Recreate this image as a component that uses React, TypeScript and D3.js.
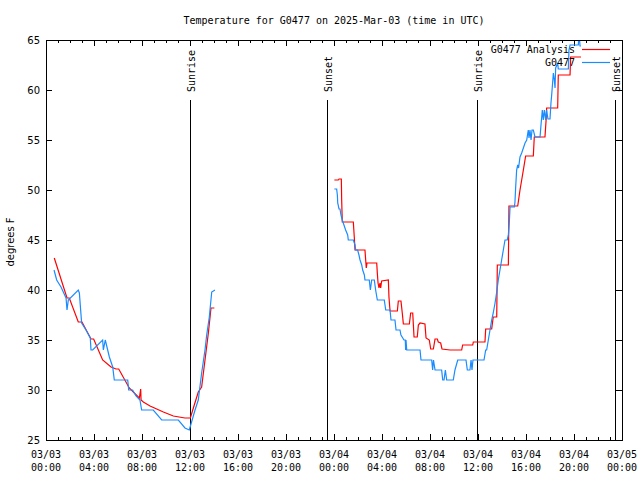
import React from "react";
import * as d3 from "d3";

// ---- data (hours since 2025-03-03 00:00 UTC, temperature in F) ----
const analysisSeg1: [number, number][] = [
  [0.69, 43.2], [1.75, 39.2], [1.94, 39.2], [2.69, 36.8], [3.0, 36.8], [3.75, 35.1], [3.97, 35.1],
  [4.72, 33.0], [5.42, 32.3], [5.83, 32.1], [6.06, 32.1], [6.94, 30.2], [7.44, 29.6], [7.78, 29.2],
  [7.89, 30.1], [7.92, 29.0], [8.11, 28.8], [8.67, 28.4], [9.78, 27.8], [10.61, 27.4], [11.58, 27.2],
  [12.03, 27.2], [12.28, 28.2], [12.69, 29.8], [12.97, 30.3], [13.25, 33.0], [13.53, 35.7],
  [13.75, 38.2], [14.03, 38.2],
];
const analysisSeg2: [number, number][] = [
  [24.03, 51.0], [24.36, 51.0], [24.42, 51.1], [24.61, 51.1], [24.64, 49.0], [24.69, 46.8],
  [25.61, 46.8], [25.69, 45.3], [25.75, 44.0], [26.58, 44.0], [26.64, 43.0], [26.69, 42.2],
  [26.75, 42.7], [27.56, 42.7], [27.61, 41.7], [27.67, 40.7], [27.75, 40.2], [27.83, 40.7],
  [27.89, 40.2], [27.97, 40.9], [28.53, 41.0], [28.58, 39.3], [28.67, 37.9], [29.28, 37.9],
  [29.36, 38.9], [29.58, 38.9], [29.69, 37.7], [29.78, 36.6], [30.28, 36.6], [30.39, 37.7],
  [30.56, 37.7], [30.67, 35.3], [30.94, 35.3], [31.03, 36.5], [31.17, 36.7], [31.58, 36.6],
  [31.67, 35.2], [31.94, 35.0], [32.06, 34.1], [32.28, 34.1], [32.42, 35.1], [32.61, 35.1],
  [32.69, 34.8], [32.89, 34.7], [33.0, 34.1], [33.67, 34.0], [34.64, 34.0], [34.72, 34.5],
  [35.56, 34.5], [35.61, 34.8], [36.58, 34.8], [36.64, 36.1], [37.14, 36.1], [37.27, 37.3],
  [37.56, 37.3], [37.61, 42.5], [38.53, 42.5], [38.58, 48.4], [39.31, 48.4], [39.5, 50.0],
  [39.78, 52.0], [39.97, 53.4], [40.61, 53.4], [40.69, 55.3], [41.58, 55.3], [41.67, 56.9],
  [41.72, 58.2], [42.64, 58.2], [42.69, 61.5], [43.67, 61.5], [43.72, 63.3], [44.58, 63.3],
];
const observedSeg1: [number, number][] = [
  [0.67, 42.0], [0.89, 41.0], [1.25, 40.3], [1.67, 39.2], [1.75, 38.0], [1.86, 39.0], [2.69, 40.0],
  [2.78, 39.7], [2.97, 36.7], [3.33, 36.0], [3.69, 35.2], [3.75, 34.0], [3.89, 34.0], [4.72, 35.0],
  [4.78, 34.0], [4.94, 35.0], [5.28, 33.3], [5.56, 32.3], [5.69, 31.0], [6.81, 31.0], [6.89, 30.0],
  [7.22, 30.0], [7.5, 29.4], [7.83, 29.0], [7.97, 28.0], [8.94, 28.0], [9.64, 27.0], [11.03, 27.0],
  [11.58, 26.2], [11.94, 26.0], [12.06, 26.5], [12.42, 28.0], [12.69, 29.0], [12.97, 31.7],
  [13.25, 34.0], [13.39, 35.5], [13.61, 37.3], [13.81, 39.8], [14.08, 40.0],
];
const observedSeg2: [number, number][] = [
  [24.03, 50.1], [24.22, 50.1], [24.28, 49.5], [24.31, 48.7], [24.42, 48.1], [24.5, 48.1],
  [24.58, 47.5], [24.69, 47.0], [24.83, 46.5], [24.97, 46.0], [25.14, 45.5], [25.19, 45.0],
  [25.61, 45.0], [25.75, 44.5], [25.81, 44.0], [25.97, 44.0], [26.08, 43.5], [26.17, 43.0],
  [26.31, 42.5], [26.39, 42.0], [26.53, 41.5], [26.58, 41.0], [26.94, 41.0], [27.03, 40.0],
  [27.14, 41.0], [27.36, 41.0], [27.47, 40.0], [27.61, 39.0], [28.19, 39.0], [28.31, 38.0],
  [28.67, 38.0], [28.75, 37.0], [29.08, 37.0], [29.17, 36.0], [29.5, 36.0], [29.58, 35.5],
  [29.83, 35.0], [29.94, 35.0], [29.97, 34.0], [30.0, 35.0], [30.06, 34.0], [31.17, 34.0],
  [31.25, 33.0], [32.14, 33.0], [32.22, 32.0], [32.29, 33.0], [32.42, 32.0], [32.97, 32.0],
  [33.06, 31.0], [33.17, 31.0], [33.28, 32.0], [33.39, 31.0], [33.94, 31.0], [34.08, 32.0],
  [34.31, 33.0], [35.0, 33.0], [35.11, 32.0], [35.33, 32.0], [35.42, 33.0], [35.5, 32.0],
  [35.58, 33.0], [36.5, 33.0], [36.64, 34.0], [36.72, 34.0], [36.86, 35.0], [37.0, 36.0],
  [37.14, 37.0], [37.27, 37.7], [37.42, 38.7], [37.56, 39.8], [37.69, 41.0], [37.83, 42.0],
  [37.97, 43.0], [38.11, 44.0], [38.25, 45.0], [38.44, 45.0], [38.53, 45.5], [38.61, 46.8],
  [38.67, 48.3], [39.03, 48.3], [39.08, 48.8], [39.14, 50.3], [39.22, 52.0], [39.31, 52.5],
  [39.38, 52.2], [39.5, 53.3], [39.64, 53.7], [39.78, 54.2], [39.92, 54.7], [40.06, 55.0],
  [40.19, 56.0], [40.25, 55.2], [40.33, 56.0], [40.42, 55.0], [40.5, 56.0], [40.61, 56.0],
  [40.75, 55.3], [41.17, 55.3], [41.25, 56.5], [41.36, 58.0], [41.44, 57.0], [41.53, 58.0],
  [41.64, 57.0], [41.72, 58.0], [41.83, 57.1], [42.0, 57.1], [42.08, 58.7], [42.14, 59.5],
  [42.28, 61.7], [42.36, 61.0], [42.42, 60.2], [42.47, 62.2], [42.64, 62.7], [42.69, 62.1],
  [43.53, 62.1], [43.58, 64.0], [43.67, 64.5], [44.36, 64.5], [44.42, 65.8], [44.5, 64.4],
  [44.58, 64.4],
];
const sunEvents: { label: string; h: number }[] = [
  { label: "Sunrise", h: 12.03 },
  { label: "Sunset", h: 23.45 },
  { label: "Sunrise", h: 35.95 },
  { label: "Sunset", h: 47.38 },
];
const yTicks = [25, 30, 35, 40, 45, 50, 55, 60, 65];
const seriesNames = ["G0477 Analysis", "G0477"];
const seriesColors = ["#ff0000", "#1a8cff"];
const titleText = "Temperature for G0477 on 2025-Mar-03 (time in UTC)";
const yLabel = "degrees F";

const T0 = Date.UTC(2025, 2, 3);
const toDate = (h: number) => new Date(T0 + h * 3600e3);

export default function App() {
  const W = 640, H = 480;
  const L = 46, R = 622, T = 40, B = 440;
  const x = d3.scaleUtc().domain([toDate(0), toDate(48)]).range([L, R]);
  const y = d3.scaleLinear().domain([25, 65]).range([B, T]);
  const line = d3
    .line<[number, number]>()
    .x((d) => x(toDate(d[0])))
    .y((d) => y(d[1]));
  const majorTicks = x.ticks(d3.utcHour.every(4)!);
  const minorTicks = x.ticks(d3.utcHour.every(1)!);
  const fmtDate = d3.utcFormat("%m/%d");
  const fmtTime = d3.utcFormat("%H:%M");
  const mono = "'DejaVu Sans Mono', monospace";
  const sans = "'DejaVu Sans', sans-serif";

  return (
    <svg width={W} height={H} style={{ position: "absolute", left: 0, top: 0, background: "#fff" }}>
      <defs>
        <clipPath id="plotclip">
          <rect x={L} y={T} width={R - L} height={B - T} />
        </clipPath>
      </defs>
      <rect x={0} y={0} width={W} height={H} fill="#fff" />
      <text x={(L + R) / 2} y={24} textAnchor="middle" fontFamily={mono} fontSize={10}>
        {titleText}
      </text>
      {/* ticks */}
      <g stroke="#000" strokeWidth={1} shapeRendering="crispEdges">
        {minorTicks.map((t, i) => {
          const xx = Math.round(x(t)) + 0.5;
          const major = majorTicks.some((m) => +m === +t);
          const len = major ? 6 : 3;
          return (
            <g key={"xt" + i}>
              <line x1={xx} x2={xx} y1={B} y2={B - len} />
              <line x1={xx} x2={xx} y1={T} y2={T + len} />
            </g>
          );
        })}
        {yTicks.map((v, i) => {
          const yy = Math.round(y(v)) + 0.5;
          return (
            <g key={"yt" + i}>
              <line x1={L} x2={L + 6} y1={yy} y2={yy} />
              <line x1={R} x2={R - 6} y1={yy} y2={yy} />
            </g>
          );
        })}
      </g>
      {/* sun lines */}
      {sunEvents.map((s, i) => {
        const xx = Math.round(x(toDate(s.h))) + 0.5;
        return (
          <g key={"sun" + i}>
            <line x1={xx} x2={xx} y1={100} y2={B} stroke="#000" strokeWidth={1} shapeRendering="crispEdges" />
            <text
              transform={`translate(${xx + 4.5},92) rotate(-90)`}
              fontFamily={mono}
              fontSize={10}
            >
              {s.label}
            </text>
          </g>
        );
      })}
      {/* data */}
      <g clipPath="url(#plotclip)" fill="none" strokeWidth={1.2} strokeLinejoin="miter">
        <path d={line(analysisSeg1) ?? ""} stroke={seriesColors[0]} />
        <path d={line(analysisSeg2) ?? ""} stroke={seriesColors[0]} />
        <path d={line(observedSeg1) ?? ""} stroke={seriesColors[1]} />
        <path d={line(observedSeg2) ?? ""} stroke={seriesColors[1]} />
      </g>
      {/* frame */}
      <rect x={L + 0.5} y={T + 0.5} width={R - L} height={B - T} fill="none" stroke="#000" strokeWidth={1} shapeRendering="crispEdges" />
      {/* y tick labels */}
      {yTicks.map((v, i) => (
        <text key={"yl" + i} x={40} y={y(v) + 4} textAnchor="end" fontFamily={sans} fontSize={10}>
          {v}
        </text>
      ))}
      <text transform={`translate(14,242) rotate(-90)`} textAnchor="middle" fontFamily={sans} fontSize={10}>
        {yLabel}
      </text>
      {/* x tick labels */}
      {majorTicks.map((t, i) => (
        <g key={"xl" + i}>
          <text x={x(t)} y={458} textAnchor="middle" fontFamily={mono} fontSize={10}>
            {fmtDate(t)}
          </text>
          <text x={x(t)} y={471} textAnchor="middle" fontFamily={mono} fontSize={10}>
            {fmtTime(t)}
          </text>
        </g>
      ))}
      {/* legend */}
      {seriesNames.map((n, i) => {
        const yy = 49.5 + i * 13;
        return (
          <g key={"lg" + i}>
            <text x={575} y={yy + 3.6} textAnchor="end" fontFamily={mono} fontSize={10}>
              {n}
            </text>
            <line x1={582} x2={610} y1={yy} y2={yy} stroke={seriesColors[i]} strokeWidth={1.2} />
          </g>
        );
      })}
    </svg>
  );
}
